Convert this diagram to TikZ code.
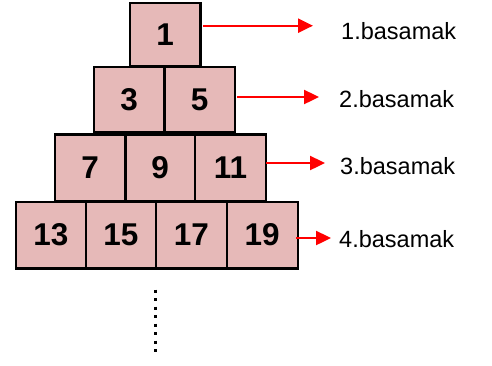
\documentclass[tikz,border=0pt]{standalone}
\usepackage{fontspec}
\setmainfont{Liberation Sans}
\usetikzlibrary{arrows.meta}
\definecolor{cellpink}{HTML}{E6B9B8}
\tikzset{
  cell/.style={draw=black, line width=2.4pt, fill=cellpink, inner sep=0pt,
    font=\fontsize{31.5}{31.5}\selectfont\bfseries},
  levelarrow/.style={draw=red, line width=2.4pt, -{Triangle[length=15pt,width=14pt]}},
  levellabel/.style={anchor=base west, inner sep=0pt, font=\fontsize{23.5}{24}\selectfont},
}
\newcommand{\cellbox}[6]{% name, x1, y1, x2, y2, text
  \node[cell, minimum width={(#4-#2)*1pt}, minimum height={(#5-#3)*1pt}]
    (#1) at ({(#2+#4)/2},{(#3+#5)/2}) {#6};}
\begin{document}
\begin{tikzpicture}[x=1pt, y=-1pt]
\useasboundingbox (0,0) rectangle (492,365);
% row 1
\cellbox{c1}{130}{3}{200.5}{65.7}{1}
% row 2
\cellbox{c3}{94}{66.7}{164.3}{132.5}{3}
\cellbox{c5}{164.3}{66.7}{235}{132.5}{5}
% row 3
\cellbox{c7}{55}{134.3}{125.3}{200.7}{7}
\cellbox{c9}{125.3}{134.3}{195}{200.7}{9}
\cellbox{c11}{195}{134.3}{266}{200.7}{11}
% row 4
\cellbox{c13}{16}{201.7}{86}{268.3}{13}
\cellbox{c15}{86}{201.7}{156}{268.3}{15}
\cellbox{c17}{156}{201.7}{226.7}{268.3}{17}
\cellbox{c19}{226.7}{201.7}{297.7}{268.3}{19}
% level labels
\node[levellabel] (l1) at (341,39) {1.basamak};
\node[levellabel] (l2) at (339,107) {2.basamak};
\node[levellabel] (l3) at (340,174) {3.basamak};
\node[levellabel] (l4) at (339,247) {4.basamak};
% arrow end points
\coordinate (s1) at (203,25.7);  \coordinate (e1) at (313,25.7);
\coordinate (s2) at (237,97);    \coordinate (e2) at (319,97);
\coordinate (s3) at (266,163);   \coordinate (e3) at (325,163);
\coordinate (s4) at (296,238);   \coordinate (e4) at (331,238);
\draw[levelarrow] (s1) -- (e1);
\draw[levelarrow] (s2) -- (e2);
\draw[levelarrow] (s3) -- (e3);
\draw[levelarrow] (s4) -- (e4);
% continuation dots below the pyramid
\coordinate (d1) at (155,289.5);
\coordinate (d2) at (155,352);
\draw[line width=3pt, dash pattern=on 3pt off 5.5pt] (d1) -- (d2);
\end{tikzpicture}
\end{document}
